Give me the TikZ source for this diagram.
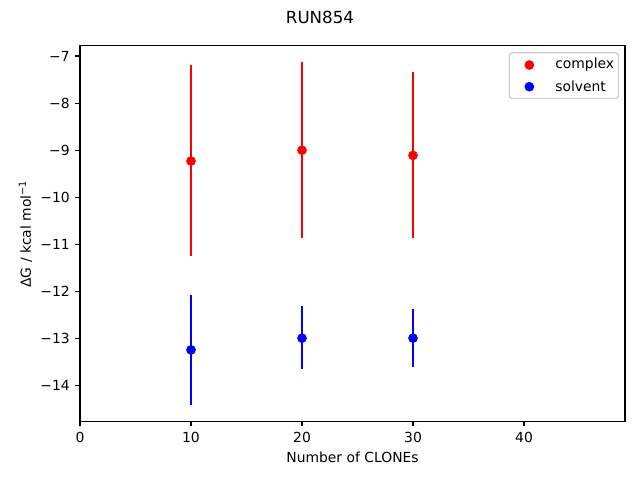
\documentclass[tikz,border=0pt]{standalone}
\usepackage{fontspec}
\setmainfont{DejaVu Sans}
\usetikzlibrary{positioning}

\begin{document}
\begin{tikzpicture}[x=7.992pt, y=33.912pt,
    axisline/.style={line width=0.8pt},
    tickmark/.style={line width=0.8pt},
    ticklabel/.style={font=\fontsize{10}{12}\selectfont, inner sep=0pt},
    errbar/.style={line width=1.5pt},
    datadot/.style={circle, inner sep=0pt, minimum size=7pt},
    legendbox/.style={draw=black!20, rounded corners=2pt, line width=0.8pt, fill=white, fill opacity=0.8}
]
\fill[white] (-7.207,-16.002) rectangle (50.45,-5.811);
\useasboundingbox (-7.207,-16.002) rectangle (50.45,-5.811);

% complex
\draw[errbar, red] (10,-7.19) -- (10,-11.24);
\draw[errbar, red] (20,-7.13) -- (20,-10.86);
\draw[errbar, red] (30,-7.35) -- (30,-10.86);
\node[datadot, fill=red] (c10) at (10,-9.23) {};
\node[datadot, fill=red] (c20) at (20,-9.00) {};
\node[datadot, fill=red] (c30) at (30,-9.11) {};

% solvent
\draw[errbar, blue] (10,-12.07) -- (10,-14.40);
\draw[errbar, blue] (20,-12.31) -- (20,-13.65);
\draw[errbar, blue] (30,-12.37) -- (30,-13.60);
\node[datadot, fill=blue] (s10) at (10,-13.24) {};
\node[datadot, fill=blue] (s20) at (20,-12.99) {};
\node[datadot, fill=blue] (s30) at (30,-12.99) {};

% axes
\draw[axisline] (0,-14.76) rectangle (49.1,-6.77);
\foreach \x in {0,10,20,30,40}
    \draw[tickmark] (\x,-14.76) -- ++(0,-3.5pt) node[below=3.5pt, ticklabel] (xt\x) {\x};
\foreach \y in {7,...,14}
    \draw[tickmark] (0,-\y) -- ++(-3.5pt,0) node[left=3.5pt, ticklabel] (yt\y) {−\y};

\node[ticklabel] (xlab) at (24.55,-15.514) {Number of CLONEs};
\node[ticklabel, rotate=90] (ylab) at (-4.91,-10.779) {ΔG / kcal mol\textsuperscript{−1}};
\node[font=\fontsize{12}{14}\selectfont, inner sep=0pt] (title) at (21.62,-6.172) {RUN854};

% legend
\draw[legendbox] (38.68,-6.93) rectangle (48.50,-7.90);
\node[datadot, fill=red] (lc) at (40.48,-7.191) {};
\node[datadot, fill=blue] (ls) at (40.48,-7.652) {};
\node[ticklabel, right=14.8pt of lc] (lctext) {complex};
\node[ticklabel, right=14.8pt of ls] (lstext) {solvent};
\end{tikzpicture}
\end{document}
